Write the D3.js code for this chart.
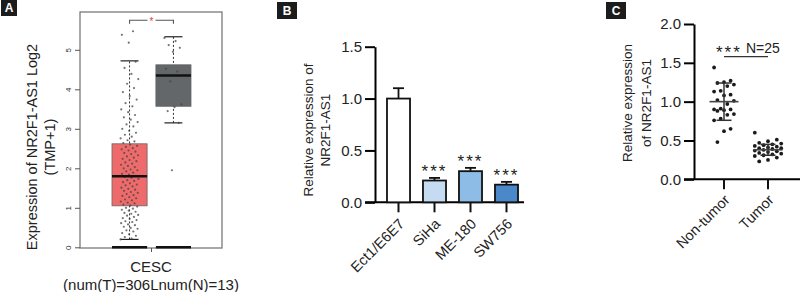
<!DOCTYPE html>
<html>
<head>
<meta charset="utf-8">
<script src="https://cdn.jsdelivr.net/npm/d3@7"></script>
<style>
  body { margin: 0; background: #fff; }
  svg { display: block; font-family: "Liberation Sans", Arial, sans-serif; }
</style>
</head>
<body>
<div id="chart"></div>
<script>
// ---- Panel A data (GEPIA box plot, CESC) ----
const boxGroups = ["Tumor", "Normal"]
// [whisker low, q1, median, q3, whisker high]
const tumorBox = [0.20, 1.05, 1.80, 2.62, 4.72]
const normalBox = [3.15, 3.57, 4.35, 4.62, 5.33]
const tumorExpr = [
  0.20, 0.22, 0.26, 0.29, 0.33, 0.36, 0.40, 0.43, 0.47, 0.49, 0.52, 0.56, 0.58, 0.61, 0.64,
  0.66, 0.69, 0.72, 0.74, 0.77, 0.80, 0.82, 0.85, 0.87, 0.90, 0.93, 0.95, 0.98, 1.00, 1.03,
  1.06, 1.08, 1.11, 1.13, 1.16, 1.19, 1.21, 1.24, 1.27, 1.30, 1.32, 1.35, 1.38, 1.40, 1.43,
  1.46, 1.48, 1.51, 1.54, 1.57, 1.59, 1.62, 1.65, 1.68, 1.70, 1.73, 1.76, 1.78, 1.81, 1.84,
  1.86, 1.89, 1.92, 1.95, 1.97, 2.00, 2.03, 2.06, 2.09, 2.12, 2.15, 2.18, 2.21, 2.24, 2.27,
  2.30, 2.33, 2.36, 2.39, 2.42, 2.45, 2.48, 2.51, 2.54, 2.57, 2.60,
  2.64, 2.68, 2.71, 2.76, 2.80, 2.85, 2.90, 2.95, 3.00, 3.06, 3.11, 3.17, 3.23, 3.29, 3.35,
  3.42, 3.49, 3.57, 3.65, 3.74, 3.83, 3.93, 4.03, 4.14, 4.26, 4.39, 4.54, 4.70,
  5.18, 5.38, 5.47
]
const normalExpr = [5.30, 5.22, 5.12, 5.05, 4.95, 4.52, 4.45, 4.20, 3.62, 3.55, 3.45, 3.15, 1.95]
const aTicks = [0, 1, 2, 3, 4, 5]

// ---- Panel B data (cell lines) ----
const cellLines = ["Ect1/E6E7", "SiHa", "ME-180", "SW756"]
const cellMeans = [1.00, 0.21, 0.30, 0.17]
const cellErr = [0.10, 0.025, 0.032, 0.027]
const cellColors = ["#ffffff", "#c4dbf1", "#8dbce6", "#4a88c9"]
const cellStars = ["", "***", "***", "***"]
const bTicks = [0, 0.5, 1.0, 1.5]

// ---- Panel C data (tissues) ----
const tissueGroups = ["Non-tumor", "Tumor"]
const nonTumorExpr = [1.44, 1.27, 1.25, 1.24, 1.22, 1.20, 1.14, 1.13, 1.09, 1.08, 1.02, 1.01, 0.97,
  0.91, 0.90, 0.90, 0.89, 0.88, 0.84, 0.83, 0.78, 0.76, 0.65, 0.62, 0.48]
const tumorTissueExpr = [0.60, 0.51, 0.49, 0.47, 0.46, 0.45, 0.44, 0.43, 0.42, 0.41, 0.40, 0.40, 0.39,
  0.38, 0.37, 0.36, 0.35, 0.34, 0.33, 0.32, 0.31, 0.30, 0.28, 0.25, 0.23]
const tissueMeans = [1.00, 0.38]
const tissueSD = [0.24, 0.07]
const cTicks = [0, 0.5, 1.0, 1.5, 2.0]

const WIDTH = 800
const HEIGHT = 292

const svg = d3.select("#chart").append("svg")
  .attr("width", WIDTH)
  .attr("height", HEIGHT)

svg.append("rect").attr("width", WIDTH).attr("height", HEIGHT).attr("fill", "#fff")

// panel letter boxes
function panelLabel(x, y, w, h, letter) {
  svg.append("rect").attr("x", x).attr("y", y).attr("width", w).attr("height", h).attr("fill", "#1c1c1c")
  svg.append("text").attr("x", x + w / 2).attr("y", y + h / 2).attr("dy", "0.36em")
    .attr("text-anchor", "middle").attr("fill", "#fff").attr("font-weight", "bold")
    .attr("font-size", 12).text(letter)
}
panelLabel(1, 0, 16, 16, "A")
panelLabel(277, 2, 20, 17, "B")
panelLabel(606, 2, 20, 17, "C")

// ===================== Panel A =====================
const A = {LEFT: 80, RIGHT: 222, TOP: 12, BOTTOM: 248}
const yA = d3.scaleLinear().domain([0, 5]).range([247.3, 49.8])
const xA = d3.scaleBand().domain(boxGroups).range([112, 191]).paddingInner(0.2).paddingOuter(0)

const gA = svg.append("g")

gA.append("rect")
  .attr("x", A.LEFT).attr("y", A.TOP)
  .attr("width", A.RIGHT - A.LEFT).attr("height", A.BOTTOM - A.TOP)
  .attr("fill", "none").attr("stroke", "#7a7a7a").attr("stroke-width", 1.3)

const axA = gA.append("g")
  .attr("transform", `translate(${A.LEFT},0)`)
  .call(d3.axisLeft(yA).tickValues(aTicks).tickSize(5).tickFormat(d3.format("d")))
axA.select(".domain").remove()
axA.selectAll(".tick line").attr("stroke", "#555")
axA.selectAll(".tick text")
  .attr("x", 0).attr("dy", 0)
  .attr("text-anchor", "middle")
  .attr("transform", "translate(-9,0) rotate(-90)")
  .attr("font-size", 8).attr("fill", "#333")

// x tick
gA.append("line")
  .attr("x1", (A.LEFT + A.RIGHT) / 2 + 0.5).attr("x2", (A.LEFT + A.RIGHT) / 2 + 0.5)
  .attr("y1", A.BOTTOM).attr("y2", A.BOTTOM + 4).attr("stroke", "#555")

function drawBox(group, stats, fill, points) {
  const x0 = xA(group), bw = xA.bandwidth(), cx = x0 + bw / 2
  // dotted whiskers
  gA.append("line").attr("x1", cx).attr("x2", cx)
    .attr("y1", yA(stats[0])).attr("y2", yA(stats[4]))
    .attr("stroke", "#333").attr("stroke-width", 1).attr("stroke-dasharray", "2,2")
  ;[stats[0], stats[4]].forEach(v => {
    gA.append("line").attr("x1", cx - 9).attr("x2", cx + 9)
      .attr("y1", yA(v)).attr("y2", yA(v)).attr("stroke", "#222").attr("stroke-width", 1.2)
  })
  gA.append("rect")
    .attr("x", x0).attr("y", yA(stats[3]))
    .attr("width", bw).attr("height", yA(stats[1]) - yA(stats[3]))
    .attr("fill", fill).attr("stroke", "#666").attr("stroke-width", 0.8)
  // jittered points
  gA.selectAll(null).data(points).enter().append("circle")
    .attr("cx", (d, i) => cx + (((i * 0.618034) % 1) - 0.5) * 18)
    .attr("cy", d => yA(d))
    .attr("r", 1.1)
    .attr("fill", "#444").attr("fill-opacity", 0.75)
  gA.append("line").attr("x1", x0).attr("x2", x0 + bw)
    .attr("y1", yA(stats[2])).attr("y2", yA(stats[2]))
    .attr("stroke", "#111").attr("stroke-width", 2.4)
  // zero line
  gA.append("line").attr("x1", x0).attr("x2", x0 + bw)
    .attr("y1", yA(0)).attr("y2", yA(0))
    .attr("stroke", "#111").attr("stroke-width", 2.4)
}
drawBox("Tumor", tumorBox, "#ef6b6b", tumorExpr)
drawBox("Normal", normalBox, "#636769", normalExpr)

// significance bracket
const cxT = xA("Tumor") + xA.bandwidth() / 2
const cxN = xA("Normal") + xA.bandwidth() / 2
gA.append("path")
  .attr("d", `M${cxT},${yA(5.66)}V${yA(5.75)}H${cxN}V${yA(5.66)}`)
  .attr("fill", "none").attr("stroke", "#555").attr("stroke-width", 1.1)
gA.append("rect").attr("x", (cxT + cxN) / 2 - 4).attr("y", yA(5.75) - 3).attr("width", 8).attr("height", 6).attr("fill", "#fff")
gA.append("text").attr("x", (cxT + cxN) / 2).attr("y", yA(5.75) + 5)
  .attr("text-anchor", "middle").attr("fill", "#e8343c").attr("font-size", 10).text("*")

// titles
gA.append("text")
  .attr("transform", "translate(37,147) rotate(-90)")
  .attr("text-anchor", "middle").attr("font-size", 14.5).attr("fill", "#222")
  .text("Expression of NR2F1-AS1 Log2")
gA.append("text")
  .attr("transform", "translate(55,147) rotate(-90)")
  .attr("text-anchor", "middle").attr("font-size", 14.5).attr("fill", "#222")
  .text("(TMP+1)")
gA.append("text").attr("x", 151).attr("y", 272)
  .attr("text-anchor", "middle").attr("font-size", 15).attr("fill", "#222").text("CESC")
gA.append("text").attr("x", 151).attr("y", 290)
  .attr("text-anchor", "middle").attr("font-size", 15).attr("fill", "#222").text("(num(T)=306Lnum(N)=13)")

// ===================== Panel B =====================
const B = {LEFT: 375, RIGHT: 524, TOP: 46.7, BOTTOM: 202.3}
const yB = d3.scaleLinear().domain([0, 1.5]).range([B.BOTTOM, B.TOP])
const xB = d3.scaleBand().domain(cellLines).range([380.5, 524.5]).paddingInner(0.36).paddingOuter(0.18)

const gB = svg.append("g")

const axB = gB.append("g")
  .attr("transform", `translate(${B.LEFT},0)`)
  .call(d3.axisLeft(yB).tickValues(bTicks).tickSize(10).tickSizeOuter(0).tickPadding(3).tickFormat(d3.format(".1f")))
axB.select(".domain").attr("stroke-width", 2)
axB.selectAll(".tick line").attr("stroke-width", 2)
axB.selectAll(".tick text").attr("font-size", 15).attr("fill", "#222").attr("font-family", "Liberation Sans, Arial, sans-serif")

gB.append("line").attr("x1", 365).attr("x2", B.RIGHT)
  .attr("y1", B.BOTTOM).attr("y2", B.BOTTOM).attr("stroke", "#000").attr("stroke-width", 2)

// bars
gB.selectAll(".bar").data(cellLines).enter().append("rect")
  .attr("x", d => xB(d))
  .attr("y", (d, i) => yB(cellMeans[i]))
  .attr("width", xB.bandwidth())
  .attr("height", (d, i) => yB(0) - yB(cellMeans[i]))
  .attr("fill", (d, i) => cellColors[i])
  .attr("stroke", "#111").attr("stroke-width", 1.8)

// error bars
cellLines.forEach((d, i) => {
  const cx = xB(d) + xB.bandwidth() / 2
  const top = yB(cellMeans[i] + cellErr[i])
  gB.append("line").attr("x1", cx).attr("x2", cx).attr("y1", yB(cellMeans[i])).attr("y2", top)
    .attr("stroke", "#111").attr("stroke-width", 1.8)
  gB.append("line").attr("x1", cx - 5.5).attr("x2", cx + 5.5).attr("y1", top).attr("y2", top)
    .attr("stroke", "#111").attr("stroke-width", 1.8)
  gB.append("text").attr("x", cx).attr("y", top - 1)
    .attr("text-anchor", "middle").attr("font-size", 17).attr("letter-spacing", 2)
    .attr("fill", "#222").text(cellStars[i])
  // x ticks
  gB.append("line").attr("x1", cx).attr("x2", cx).attr("y1", B.BOTTOM).attr("y2", B.BOTTOM + 10)
    .attr("stroke", "#111").attr("stroke-width", 2)
  gB.append("text")
    .attr("transform", `translate(${cx + 3},${B.BOTTOM + 19}) rotate(-45)`)
    .attr("text-anchor", "end").attr("dy", "0.35em")
    .attr("font-size", 14.5).attr("fill", "#222").text(d)
})

gB.append("text").attr("transform", "translate(313,130) rotate(-90)")
  .attr("text-anchor", "middle").attr("font-size", 13.5).attr("fill", "#222").text("Relative expression of")
gB.append("text").attr("transform", "translate(330,130) rotate(-90)")
  .attr("text-anchor", "middle").attr("font-size", 13.5).attr("fill", "#222").text("NR2F1-AS1")

// ===================== Panel C =====================
const C = {LEFT: 694, RIGHT: 800, TOP: 24, BOTTOM: 179.3}
const yC = d3.scaleLinear().domain([0, 2]).range([C.BOTTOM, C.TOP])
const xC = d3.scalePoint().domain(tissueGroups).range([724, 768])

const gC = svg.append("g")

const axC = gC.append("g")
  .attr("transform", `translate(${C.LEFT},0)`)
  .call(d3.axisLeft(yC).tickValues(cTicks).tickSize(10).tickSizeOuter(0).tickPadding(3).tickFormat(d3.format(".1f")))
axC.select(".domain").attr("stroke-width", 2)
axC.selectAll(".tick line").attr("stroke-width", 2)
axC.selectAll(".tick text").attr("font-size", 15).attr("fill", "#222").attr("font-family", "Liberation Sans, Arial, sans-serif")

gC.append("line").attr("x1", 684).attr("x2", C.RIGHT)
  .attr("y1", C.BOTTOM).attr("y2", C.BOTTOM).attr("stroke", "#000").attr("stroke-width", 2)

const tissuePoints = [nonTumorExpr, tumorTissueExpr]
tissueGroups.forEach((g, k) => {
  const cx = xC(g)
  const spread = k === 0 ? 3.3 : 4.4
  gC.selectAll(null).data(tissuePoints[k]).enter().append("circle")
    .attr("cx", (d, i) => cx + (((i * 5) % 7) - 3) * spread)
    .attr("cy", d => yC(d))
    .attr("r", 1.9)
    .attr("fill", "#1a1a1a")
  const m = tissueMeans[k], s = tissueSD[k]
  gC.append("line").attr("x1", cx).attr("x2", cx).attr("y1", yC(m - s)).attr("y2", yC(m + s))
    .attr("stroke", "#333").attr("stroke-width", 1.5)
  ;[m - s, m + s].forEach(v => {
    gC.append("line").attr("x1", cx - 7.5).attr("x2", cx + 7.5).attr("y1", yC(v)).attr("y2", yC(v))
      .attr("stroke", "#333").attr("stroke-width", 1.5)
  })
  gC.append("line").attr("x1", cx - 14.5).attr("x2", cx + 14.5).attr("y1", yC(m)).attr("y2", yC(m))
    .attr("stroke", "#444").attr("stroke-width", 1.6)
  // x ticks
  gC.append("line").attr("x1", cx).attr("x2", cx).attr("y1", C.BOTTOM).attr("y2", C.BOTTOM + 10)
    .attr("stroke", "#111").attr("stroke-width", 2)
  gC.append("text")
    .attr("transform", `translate(${cx + 3},${C.BOTTOM + 18}) rotate(-45)`)
    .attr("text-anchor", "end").attr("dy", "0.35em")
    .attr("font-size", 14.5).attr("fill", "#222").text(g)
})

// significance
gC.append("line").attr("x1", xC("Non-tumor")).attr("x2", xC("Tumor"))
  .attr("y1", 56.7).attr("y2", 56.7).attr("stroke", "#333").attr("stroke-width", 1.3)
gC.append("text").attr("x", 716).attr("y", 58)
  .attr("font-size", 17).attr("letter-spacing", 2).attr("fill", "#222").text("***")
gC.append("text").attr("x", 746).attr("y", 53)
  .attr("font-size", 14).attr("fill", "#222").text("N=25")

gC.append("text").attr("transform", "translate(632,103) rotate(-90)")
  .attr("text-anchor", "middle").attr("font-size", 13.5).attr("fill", "#222").text("Relative expression")
gC.append("text").attr("transform", "translate(651,103) rotate(-90)")
  .attr("text-anchor", "middle").attr("font-size", 13.5).attr("fill", "#222").text("of NR2F1-AS1")
</script>
</body>
</html>
